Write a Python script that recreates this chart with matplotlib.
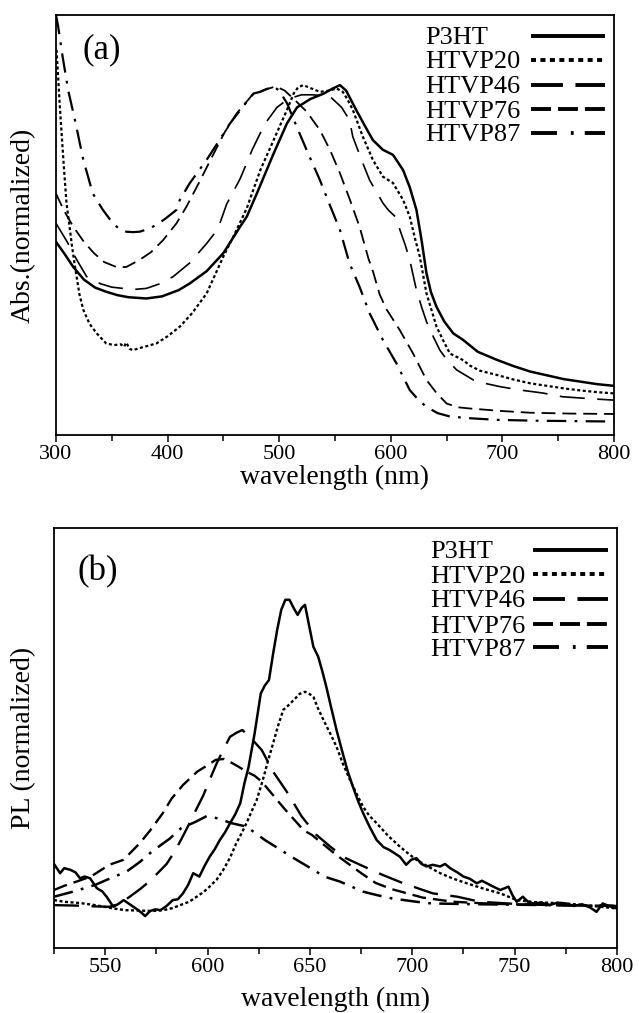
import numpy as np
import matplotlib.pyplot as plt
from matplotlib.ticker import MultipleLocator

plt.rcParams['font.family'] = ['Liberation Serif', 'DejaVu Serif']
plt.rcParams['lines.scale_dashes'] = False

NAMES = ["P3HT", "HTVP20", "HTVP46", "HTVP76", "HTVP87"]

# ---- (a) absorption (normalized, 0 = axis bottom, 1 = axis top)
abs_p3ht_x = [300, 308, 315.5, 325, 335, 345, 355, 365, 381, 395, 410, 420, 435, 450, 465, 471,
              480, 495, 507, 516, 528, 540, 548, 554.5, 560, 569, 577, 584, 593, 602, 611, 617,
              623, 627.6, 632, 636, 641, 648, 656, 665, 678, 695, 710, 725, 740, 755, 770, 785, 800]
abs_p3ht_y = [0.46, 0.43, 0.40, 0.37, 0.351, 0.341, 0.333, 0.328, 0.325, 0.33, 0.345, 0.361, 0.39,
              0.433, 0.496, 0.52, 0.575, 0.67, 0.742, 0.78, 0.80, 0.813, 0.825, 0.833, 0.82, 0.774,
              0.735, 0.702, 0.679, 0.667, 0.631, 0.59, 0.536, 0.464, 0.385, 0.34, 0.305, 0.27, 0.242,
              0.226, 0.198, 0.179, 0.164, 0.151, 0.142, 0.133, 0.127, 0.121, 0.117]

abs_htvp20_x = [300.5, 302, 303.5, 305, 307, 309.5, 312, 314, 316.5, 318.5, 321, 324.5, 330, 336.5,
                345, 352, 358, 361, 363, 366, 369, 375, 382, 390, 400, 411, 422, 435, 450, 460, 471,
                483, 495, 507, 513, 517, 521.6, 528, 536.5, 545, 551.5, 557, 561, 566, 575, 584, 593,
                602, 611, 617, 622, 626, 632, 641, 647, 653, 665, 671, 680, 695, 710, 725, 740, 755,
                770, 785, 800]
abs_htvp20_y = [0.917, 0.85, 0.78, 0.72, 0.64, 0.55, 0.50, 0.457, 0.41, 0.377, 0.335, 0.298, 0.265,
                0.242, 0.218, 0.214, 0.216, 0.21, 0.22, 0.205, 0.202, 0.207, 0.212, 0.218, 0.235,
                0.258, 0.29, 0.337, 0.425, 0.478, 0.54, 0.63, 0.702, 0.774, 0.813, 0.828, 0.833,
                0.826, 0.817, 0.82, 0.825, 0.817, 0.80, 0.774, 0.71, 0.655, 0.615, 0.6, 0.56, 0.52,
                0.465, 0.425, 0.337, 0.258, 0.225, 0.194, 0.178, 0.165, 0.153, 0.143, 0.132, 0.123,
                0.117, 0.111, 0.106, 0.102, 0.099]

abs_htvp46_x = [300, 310, 318, 327.5, 340, 350, 360, 372, 381, 393, 405, 420, 435, 445, 453, 465,
                476, 487, 498, 508, 520, 530, 545.5, 556, 563, 566, 575, 581, 587, 593, 598, 604,
                608, 613, 617, 623, 627.6, 632, 636.6, 644, 650, 659, 674, 686, 698, 716, 736, 754,
                781, 800]
abs_htvp46_y = [0.504, 0.46, 0.42, 0.377, 0.36, 0.352, 0.349, 0.347, 0.349, 0.36, 0.377, 0.41, 0.456,
                0.49, 0.55, 0.61, 0.68, 0.74, 0.78, 0.80, 0.81, 0.81, 0.806, 0.78, 0.75, 0.71, 0.647,
                0.607, 0.58, 0.552, 0.535, 0.52, 0.49, 0.452, 0.417, 0.345, 0.305, 0.27, 0.242, 0.202,
                0.18, 0.155, 0.131, 0.122, 0.115, 0.107, 0.10, 0.091, 0.086, 0.083]

abs_htvp76_x = [300, 307, 315.5, 325, 334, 343, 354, 363, 375, 385, 396, 408, 417, 428, 440, 451,
                462, 476, 487, 497, 505, 515, 524.6, 536.5, 545.5, 554.5, 563.4, 572, 580, 584, 590,
                596, 608, 620, 632, 641, 650, 660, 671, 700, 725, 760, 800]
abs_htvp76_y = [0.575, 0.535, 0.496, 0.46, 0.433, 0.412, 0.40, 0.40, 0.417, 0.435, 0.464, 0.504,
                0.544, 0.60, 0.663, 0.72, 0.766, 0.81, 0.822, 0.83, 0.82, 0.795, 0.77, 0.726, 0.679,
                0.623, 0.56, 0.496, 0.42, 0.39, 0.335, 0.30, 0.25, 0.194, 0.131, 0.10, 0.075, 0.066,
                0.063, 0.057, 0.053, 0.051, 0.05]

abs_htvp87_x = [300, 302, 306, 311, 317, 324.5, 333, 342, 351, 357, 363, 369, 375, 382, 390, 398,
                408, 411, 420, 435, 446, 456, 467, 477, 483, 490, 495, 500, 507, 515.7, 526, 536.5,
                545, 554.5, 563, 572, 581, 593, 605, 617, 625, 632, 642, 653, 670, 695, 730, 800]
abs_htvp87_y = [1.0, 0.972, 0.90, 0.82, 0.75, 0.655, 0.575, 0.536, 0.504, 0.49, 0.484, 0.483, 0.484,
                0.49, 0.5, 0.515, 0.536, 0.56, 0.60, 0.655, 0.70, 0.742, 0.78, 0.813, 0.817, 0.825,
                0.83, 0.82, 0.79, 0.734, 0.67, 0.607, 0.55, 0.488, 0.409, 0.353, 0.29, 0.226, 0.171,
                0.107, 0.083, 0.067, 0.052, 0.044, 0.04, 0.036, 0.034, 0.032]

# ---- (b) photoluminescence
pl_p3ht_x = [525, 528, 530, 533, 535.5, 537.7, 540, 542.6, 546, 548.5, 550.7, 554, 556.5, 559, 562,
             565, 567.5, 569.5, 572, 574.5, 577, 580, 583, 585.5, 588, 590.5, 593, 596, 598.5, 601,
             603.5, 606, 608.5, 611, 613.5, 616, 618, 620, 623, 626, 628, 630, 632, 634, 636, 638,
             640, 642, 644, 646, 647.6, 649.5, 651.7, 654, 656, 658, 660.5, 663, 666, 668.5, 671,
             673.5, 676, 679, 682.6, 686, 689, 691.5, 694, 697, 699.5, 702, 704.5, 707, 710, 713.6,
             716, 718.5, 722, 725, 728, 731.5, 734, 736.4, 740, 743, 747, 749, 751, 754, 756.5, 759,
             763, 767, 771, 775, 779, 783, 787, 790, 793, 796, 800]
pl_p3ht_y = [0.2, 0.178, 0.19, 0.186, 0.18, 0.166, 0.17, 0.166, 0.142, 0.135, 0.122, 0.098, 0.105,
             0.114, 0.104, 0.094, 0.085, 0.076, 0.088, 0.092, 0.09, 0.1, 0.114, 0.116, 0.13, 0.15,
             0.178, 0.17, 0.195, 0.217, 0.235, 0.257, 0.275, 0.297, 0.318, 0.345, 0.392, 0.43, 0.511,
             0.606, 0.625, 0.638, 0.70, 0.757, 0.805, 0.829, 0.829, 0.81, 0.793, 0.81, 0.817, 0.77,
             0.717, 0.694, 0.66, 0.622, 0.57, 0.519, 0.464, 0.42, 0.384, 0.35, 0.321, 0.29, 0.257,
             0.24, 0.233, 0.225, 0.217, 0.198, 0.21, 0.214, 0.2, 0.194, 0.198, 0.194, 0.2, 0.19, 0.18,
             0.17, 0.165, 0.154, 0.16, 0.154, 0.145, 0.138, 0.146, 0.125, 0.11, 0.122, 0.11, 0.106,
             0.108, 0.102, 0.108, 0.106, 0.1, 0.104, 0.096, 0.086, 0.106, 0.1, 0.094]

pl_htvp20_x = [525, 530, 537.7, 545, 554, 560, 567, 573, 578.4, 583, 586.6, 591, 594.7, 598, 601,
               604.5, 607.7, 611, 614, 616.5, 619, 621.5, 624, 627, 629.5, 632, 634.5, 637, 640, 642,
               645, 647.6, 650, 651.7, 654, 656.6, 660, 663, 666, 669.6, 673, 676, 679, 682.6, 688,
               694, 698, 702, 708, 713.6, 720, 726.6, 735, 743, 751, 760, 775, 788, 800]
pl_htvp20_y = [0.114, 0.11, 0.107, 0.102, 0.094, 0.09, 0.089, 0.088, 0.09, 0.095, 0.102, 0.11, 0.122,
               0.133, 0.146, 0.163, 0.186, 0.215, 0.249, 0.272, 0.297, 0.325, 0.352, 0.40, 0.445,
               0.487, 0.53, 0.567, 0.58, 0.59, 0.605, 0.61, 0.604, 0.598, 0.57, 0.543, 0.51, 0.479,
               0.44, 0.4, 0.365, 0.336, 0.315, 0.297, 0.268, 0.241, 0.225, 0.21, 0.193, 0.178, 0.165,
               0.154, 0.141, 0.13, 0.114, 0.109, 0.106, 0.1, 0.094]

pl_htvp46_x = [525, 535, 545, 552, 557, 562, 567, 572, 576, 580, 584, 587.4, 591, 594.5, 598, 601,
               604.5, 608, 611, 614, 617, 620, 623, 626.5, 632, 638.7, 646, 653, 660, 667, 674.5,
               685, 695.6, 710, 722, 733, 750, 775, 800]
pl_htvp46_y = [0.102, 0.101, 0.099, 0.098, 0.105, 0.122, 0.14, 0.16, 0.18, 0.2, 0.23, 0.261, 0.295,
               0.33, 0.364, 0.40, 0.44, 0.475, 0.503, 0.512, 0.519, 0.505, 0.49, 0.471, 0.42, 0.372,
               0.313, 0.27, 0.241, 0.215, 0.198, 0.175, 0.154, 0.13, 0.122, 0.11, 0.105, 0.102, 0.10]

pl_htvp76_x = [525, 530, 536, 543, 552, 559, 567, 572, 578, 582.5, 588, 595, 600, 604, 608, 611,
               615, 619, 623, 626.5, 634, 638, 647, 651, 660, 664.7, 674.5, 682, 690, 705, 720, 740,
               770, 800]
pl_htvp76_y = [0.138, 0.148, 0.158, 0.17, 0.198, 0.21, 0.25, 0.28, 0.32, 0.356, 0.388, 0.42, 0.435,
               0.448, 0.45, 0.443, 0.432, 0.42, 0.41, 0.396, 0.352, 0.329, 0.28, 0.269, 0.233, 0.215,
               0.18, 0.155, 0.14, 0.12, 0.11, 0.105, 0.102, 0.10]

pl_htvp87_x = [525, 535, 545, 550.7, 560.5, 567, 572.7, 581.7, 587, 594, 599.6, 604.5, 611.8, 619,
               628, 634.6, 641, 651.7, 657, 664.7, 676, 682.6, 690, 702, 709.5, 733, 800]
pl_htvp87_y = [0.122, 0.135, 0.15, 0.162, 0.182, 0.205, 0.229, 0.261, 0.285, 0.30, 0.314, 0.309,
               0.297, 0.289, 0.257, 0.237, 0.217, 0.186, 0.17, 0.158, 0.134, 0.126, 0.118, 0.11,
               0.106, 0.104, 0.10]

abs_x = [abs_p3ht_x, abs_htvp20_x, abs_htvp46_x, abs_htvp76_x, abs_htvp87_x]
abs_y = [abs_p3ht_y, abs_htvp20_y, abs_htvp46_y, abs_htvp76_y, abs_htvp87_y]
pl_x = [pl_p3ht_x, pl_htvp20_x, pl_htvp46_x, pl_htvp76_x, pl_htvp87_x]
pl_y = [pl_p3ht_y, pl_htvp20_y, pl_htvp46_y, pl_htvp76_y, pl_htvp87_y]

# line styles for the curves and (thicker) for the key samples
CURVE_LS = ['-', (0, (2.2, 1.8)), (0, (18, 9)), (0, (10, 5)), (0, (14, 6, 2, 6))]
KEY_LS = ['-', (0, (3.6, 3.2)), (0, (23, 9)), (0, (14.4, 5)), (0, (18.7, 10, 2, 8))]


def panel(ax, xs, ys, lws, xlim, major, minor, ylabel, tag, tag_xy, key_x, key_rows,
          ylab_x, xpad):
    for x, y, ls, lw in zip(xs, ys, CURVE_LS, lws):
        ax.plot(x, y, color='black', ls=ls, lw=lw)
    ax.set_xlim(*xlim)
    ax.set_ylim(0, 1)
    ax.xaxis.set_major_locator(MultipleLocator(major))
    ax.xaxis.set_minor_locator(MultipleLocator(minor))
    ax.tick_params(axis='x', which='major', direction='out', length=5, width=1.1,
                   labelsize=16, pad=2)
    ax.tick_params(axis='x', which='minor', direction='out', length=4, width=1.1)
    ax.tick_params(axis='y', which='both', left=False, labelleft=False)
    for s in ax.spines.values():
        s.set_linewidth(1.3)
    ax.set_xlabel('wavelength (nm)', fontsize=20, labelpad=xpad)
    ax.set_ylabel(ylabel, fontsize=20)
    ax.yaxis.set_label_coords(ylab_x, 0.5)
    ax.text(tag_xy[0], tag_xy[1], tag, transform=ax.transAxes, fontsize=25,
            ha='left', va='center')
    # key: text first, line sample after it
    tx, l0, l1 = key_x
    for name, ls, yy in zip(NAMES, KEY_LS, key_rows):
        ax.text(tx, yy, name, transform=ax.transAxes, fontsize=19, ha='left', va='center')
        ax.plot([l0, l1], [yy + 0.006, yy + 0.006], transform=ax.transAxes,
                color='black', ls=ls, lw=2.8, solid_capstyle='butt', dash_capstyle='butt')


fig = plt.figure(figsize=(6.39, 10.13), dpi=100)
ax1 = fig.add_axes([0.0876, 0.5706, 0.8732, 0.4146])
ax2 = fig.add_axes([0.0845, 0.0642, 0.8811, 0.4146])

panel(ax1, abs_x, abs_y, [1.8, 1.6, 1.2, 1.3, 1.6], (300, 800), 100, 50, 'Abs.(normalized)',
      '(a)', (0.047, 0.917), (0.661, 0.851, 0.984), [0.945, 0.887, 0.828, 0.77, 0.714],
      -0.036, 1)
panel(ax2, pl_x, pl_y, [1.8, 1.7, 1.7, 1.7, 1.8], (525, 800), 50, 25, 'PL (normalized)',
      '(b)', (0.041, 0.895), (0.668, 0.851, 0.984), [0.942, 0.884, 0.826, 0.765, 0.71],
      -0.031, 7)

fig.savefig('out.png', dpi=100)
